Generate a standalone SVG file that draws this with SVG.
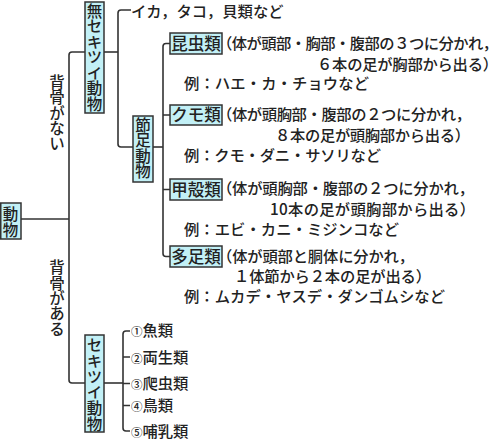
<svg xmlns="http://www.w3.org/2000/svg" width="500" height="442" viewBox="0 0 500 442">
<style>
text{font-family:"Noto Sans CJK JP","Noto Sans",sans-serif;fill:#222;font-weight:500}
.box{fill:#c2f0f6;stroke:#333;stroke-width:1.5}
.v{font-size:15.5px;writing-mode:vertical-rl;text-orientation:upright}
.h{font-size:16.5px;text-anchor:middle}
.t{font-size:15.3px}
.c{fill:none;stroke:#333;stroke-width:1.6}
</style>
<rect width="500" height="442" fill="#fff"/>
<g id="connectors">
<path class="c" d="M21,219 H69"/>
<path class="c" d="M85,52 H72 Q69,52 69,55 V380 Q69,383 72,383 H85"/>
<path class="c" d="M104,52 H118"/>
<path class="c" d="M131,10 H121 Q118,10 118,13 V144 Q118,147 121,147 H133"/>
<path class="c" d="M153,147 H163"/>
<path class="c" d="M170,43.5 H166 Q163,43.5 163,46.5 V253.5 Q163,256.5 166,256.5 H170"/>
<path class="c" d="M163,115 H170 M163,189.5 H170"/>
<path class="c" d="M104,383 H123"/>
<path class="c" d="M130,331 H126 Q123,331 123,334 V428 Q123,431 126,431 H130"/>
<path class="c" d="M123,357 H130 M123,383.5 H130 M123,405.5 H130"/>
</g>
<g id="animal">
<rect class="box" x="0.75" y="203" width="20.25" height="36"/>
<text class="v" x="10.5" y="206.5" textLength="31" lengthAdjust="spacing">動物</text>
</g>
<g id="label-nobackbone">
<text class="v" x="57" y="74.5" textLength="76.5" lengthAdjust="spacing">背骨がない</text>
</g>
<g id="label-backbone">
<text class="v" x="57" y="259.5" textLength="77" lengthAdjust="spacing">背骨がある</text>
</g>
<g id="invertebrate">
<rect class="box" x="85" y="2" width="19" height="111"/>
<text class="v" x="94.5" y="3.25" textLength="108.5" lengthAdjust="spacing">無セキツイ動物</text>
</g>
<g id="mollusc">
<text class="t" x="131" y="16.8">イカ，タコ，貝類など</text>
</g>
<g id="arthropod">
<rect class="box" x="133" y="116" width="20" height="66"/>
<text class="v" x="143" y="117.3" textLength="61.5" lengthAdjust="spacing">節足動物</text>
</g>
<g id="insects">
<rect class="box" x="170" y="33" width="52" height="21"/>
<text class="h" x="196" y="49.5">昆虫類</text>
<text class="t" x="217" y="49.3" textLength="281" lengthAdjust="spacing">（体が頭部・胸部・腹部の３つに分かれ，</text>
<text class="t" x="317" y="69.8" textLength="181" lengthAdjust="spacing">６本の足が胸部から出る）</text>
<text class="t" x="184" y="89.3" textLength="185" lengthAdjust="spacing">例：ハエ・カ・チョウなど</text>
</g>
<g id="arachnids">
<rect class="box" x="170" y="105" width="52" height="20"/>
<text class="h" x="196" y="121">クモ類</text>
<text class="t" x="217" y="120" textLength="254" lengthAdjust="spacing">（体が頭胸部・腹部の２つに分かれ，</text>
<text class="t" x="275" y="140.5" textLength="195" lengthAdjust="spacing">８本の足が頭胸部から出る）</text>
<text class="t" x="184" y="160.8" textLength="197" lengthAdjust="spacing">例：クモ・ダニ・サソリなど</text>
</g>
<g id="crustaceans">
<rect class="box" x="170" y="179" width="52" height="21"/>
<text class="h" x="196" y="195.5">甲殻類</text>
<text class="t" x="217" y="194.3" textLength="257" lengthAdjust="spacing">（体が頭胸部・腹部の２つに分かれ，</text>
<text class="t" x="270" y="214.8" textLength="205" lengthAdjust="spacing">10本の足が頭胸部から出る）</text>
<text class="t" x="184" y="234.6" textLength="215" lengthAdjust="spacing">例：エビ・カニ・ミジンコなど</text>
</g>
<g id="myriapods">
<rect class="box" x="170" y="246" width="52" height="21"/>
<text class="h" x="196" y="262.5">多足類</text>
<text class="t" x="217" y="261.5" textLength="197" lengthAdjust="spacing">（体が頭部と胴体に分かれ，</text>
<text class="t" x="234" y="282" textLength="197" lengthAdjust="spacing">１体節から２本の足が出る）</text>
<text class="t" x="184" y="301.8" textLength="261" lengthAdjust="spacing">例：ムカデ・ヤスデ・ダンゴムシなど</text>
</g>
<g id="vertebrate">
<rect class="box" x="85" y="335" width="19" height="97"/>
<text class="v" x="94.5" y="337.2" textLength="94.8" lengthAdjust="spacing">セキツイ動物</text>
</g>
<g id="vertebrate-classes">
<text class="t" x="131" y="336.3"><tspan font-size="11.5">①</tspan>魚類</text>
<text class="t" x="131" y="362.8"><tspan font-size="11.5">②</tspan>両生類</text>
<text class="t" x="131" y="389.3"><tspan font-size="11.5">③</tspan>爬虫類</text>
<text class="t" x="131" y="411.3"><tspan font-size="11.5">④</tspan>鳥類</text>
<text class="t" x="131" y="437.3"><tspan font-size="11.5">⑤</tspan>哺乳類</text>
</g>
</svg>
